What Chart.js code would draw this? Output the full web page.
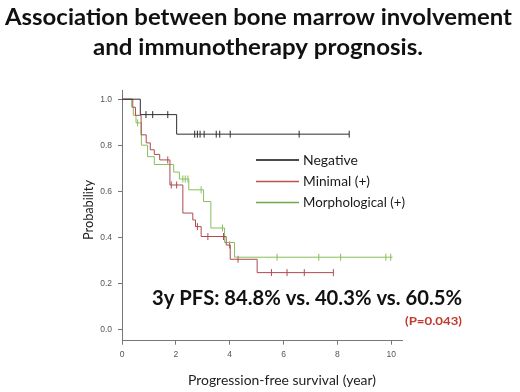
<!DOCTYPE html>
<html>
<head>
<meta charset="utf-8">
<script src="https://cdn.jsdelivr.net/npm/chart.js@4"></script>
<style>
  html, body { margin: 0; padding: 0; background: #fff; }
</style>
</head>
<body>
<canvas id="km" width="520" height="392"></canvas>
<script>
// Kaplan-Meier curves (years, survival after each drop)
const seriesNames = ['Negative', 'Minimal (+)', 'Morphological (+)'];

const negTimes = [0, 0.68, 2.03];
const negSurv = [1, 0.933, 0.848];
const negCensored = [0.89, 1.14, 1.70, 2.70, 2.80, 2.90, 3.05, 3.50, 3.63, 4.02, 6.58, 8.44];

const minTimes = [0, 0.40, 0.50, 0.71, 0.90, 1.05, 1.20, 1.40, 1.78, 2.26, 2.63, 2.73, 2.94, 3.87, 4.02, 5.02];
const minSurv = [1, 0.965, 0.93, 0.845, 0.81, 0.78, 0.76, 0.736, 0.627, 0.505, 0.475, 0.446, 0.403, 0.366, 0.304, 0.246];
const minCensored = [1.70, 1.83, 2.03, 2.80, 3.19, 3.77, 4.00, 4.31, 5.55, 6.13, 6.77, 7.85];

const morTimes = [0, 0.36, 0.42, 0.52, 0.72, 0.95, 1.20, 1.92, 2.13, 2.48, 3.03, 3.30, 3.81, 4.18];
const morSurv = [1, 0.965, 0.93, 0.897, 0.80, 0.75, 0.716, 0.683, 0.653, 0.606, 0.555, 0.44, 0.377, 0.313];
const morCensored = [0.58, 2.26, 2.35, 2.45, 2.94, 3.73, 5.76, 7.31, 8.12, 9.80, 9.98];

const lastFollowUp = [8.44, 7.85, 10.05];

const xTicks = [0, 2, 4, 6, 8, 10];
const yTicks = [0, 0.2, 0.4, 0.6, 0.8, 1.0];

const titleLines = ['Association between bone marrow involvement', 'and immunotherapy prognosis.'];
const pfsText = '3y PFS: 84.8% vs. 40.3% vs. 60.5%';
const pText = '(P=0.043)';
const xTitle = 'Progression-free survival (year)';
const yTitle = 'Probability';

const lineColors = ['#2e2e2e', '#b04a50', '#88bf5c'];
const keyColors = ['#111111', '#c0504d', '#6fa845'];
const FONT = 'Lato, "Open Sans", sans-serif';

function stepPoints(times, surv, end) {
    let pts = times.map((t, i) => ({ x: t, y: surv[i] }));
    pts.push({ x: end, y: surv[surv.length - 1] });
    return pts;
}

function survAt(times, surv, t) {
    let s = surv[0];
    for (let i = 0; i < times.length; i++) {
        if (times[i] <= t) s = surv[i];
    }
    return s;
}

function censorPoints(times, surv, cens) {
    return cens.map(t => ({ x: t, y: survAt(times, surv, t) }));
}

// draws text at a given size, squeezed horizontally to the width seen on the figure
function drawFitted(ctx, text, x, y, size, width, weight, align) {
    ctx.save();
    ctx.font = weight + ' ' + size + 'px ' + FONT;
    const w = ctx.measureText(text).width;
    const k = Math.min(1.15, width / w);
    let left = x;
    if (align === 'center') left = x - width / 2;
    if (align === 'right') left = x - width;
    ctx.translate(left, y);
    ctx.scale(k, 1);
    ctx.textAlign = 'left';
    ctx.textBaseline = 'middle';
    ctx.fillText(text, 0, 0);
    ctx.restore();
}

const curves = [
    [negTimes, negSurv, negCensored],
    [minTimes, minSurv, minCensored],
    [morTimes, morSurv, morCensored]
];

let datasets = [];
curves.forEach((c, i) => {
    datasets.push({
        label: seriesNames[i],
        data: stepPoints(c[0], c[1], lastFollowUp[i]),
        stepped: true,
        borderColor: lineColors[i],
        borderWidth: 1,
        pointRadius: 0,
        fill: false
    });
});
curves.forEach((c, i) => {
    datasets.push({
        label: seriesNames[i] + ' censored',
        data: censorPoints(c[0], c[1], c[2]),
        showLine: false,
        pointStyle: 'line',
        rotation: 90,
        pointRadius: 3.5,
        pointBorderWidth: 1,
        borderColor: lineColors[i],
        backgroundColor: lineColors[i]
    });
});

const textPlugin = {
    id: 'textPlugin',
    afterDraw(chart) {
        const ctx = chart.ctx;
        ctx.save();

        // title
        ctx.fillStyle = '#111';
        drawFitted(ctx, titleLines[0], 258.5, 18, 23, 507, 'bold', 'center');
        drawFitted(ctx, titleLines[1], 258, 48, 23, 330, 'bold', 'center');

        // legend inside the plot
        const keyY = [160, 181.5, 202.5];
        seriesNames.forEach((name, i) => {
            ctx.strokeStyle = keyColors[i];
            ctx.lineWidth = 1.5;
            ctx.beginPath();
            ctx.moveTo(256, keyY[i]);
            ctx.lineTo(299, keyY[i]);
            ctx.stroke();
        });
        ctx.fillStyle = '#1a1a1a';
        drawFitted(ctx, seriesNames[0], 303, keyY[0], 14, 55, 'normal', 'left');
        drawFitted(ctx, seriesNames[1], 303, keyY[1], 14, 67, 'normal', 'left');
        drawFitted(ctx, seriesNames[2], 303, keyY[2], 14, 102, 'normal', 'left');

        // 3-year PFS note
        ctx.fillStyle = '#111';
        drawFitted(ctx, pfsText, 152, 298, 21, 310, 'bold', 'left');
        ctx.fillStyle = '#c0392b';
        drawFitted(ctx, pText, 462, 321, 12, 57, 'bold', 'right');

        // axis titles
        ctx.fillStyle = '#222';
        drawFitted(ctx, xTitle, 282, 380, 14, 188, 'normal', 'center');
        ctx.translate(88, 210);
        ctx.rotate(-Math.PI / 2);
        drawFitted(ctx, yTitle, 0, 0, 14, 60, 'normal', 'center');
        ctx.restore();
    }
};

new Chart(document.getElementById('km'), {
    type: 'line',
    data: { datasets: datasets },
    plugins: [textPlugin],
    options: {
        responsive: false,
        animation: false,
        layout: { padding: { left: 0, right: 118, top: 90, bottom: 0 } },
        plugins: {
            legend: { display: false },
            tooltip: { enabled: false },
            title: { display: false }
        },
        scales: {
            x: {
                type: 'linear',
                min: 0,
                max: 10.4,
                afterBuildTicks: s => { s.ticks = xTicks.map(v => ({ value: v })); },
                afterFit: s => { s.height = 51.3; },
                ticks: {
                    color: '#555',
                    font: { family: 'Liberation Sans, Arial', size: 8.5 },
                    padding: 5,
                    maxRotation: 0
                },
                grid: { drawOnChartArea: false, drawTicks: true, tickLength: 4, tickColor: '#777' },
                border: { color: '#777', width: 1 }
            },
            y: {
                min: -0.05,
                max: 1.04,
                afterBuildTicks: s => { s.ticks = yTicks.map(v => ({ value: v })); },
                afterFit: s => { s.width = 122; },
                ticks: {
                    color: '#555',
                    font: { family: 'Liberation Sans, Arial', size: 8.5 },
                    padding: 6,
                    callback: v => v.toFixed(1)
                },
                grid: { drawOnChartArea: false, drawTicks: true, tickLength: 4, tickColor: '#777' },
                border: { color: '#777', width: 1 }
            }
        }
    }
});
</script>
</body>
</html>
